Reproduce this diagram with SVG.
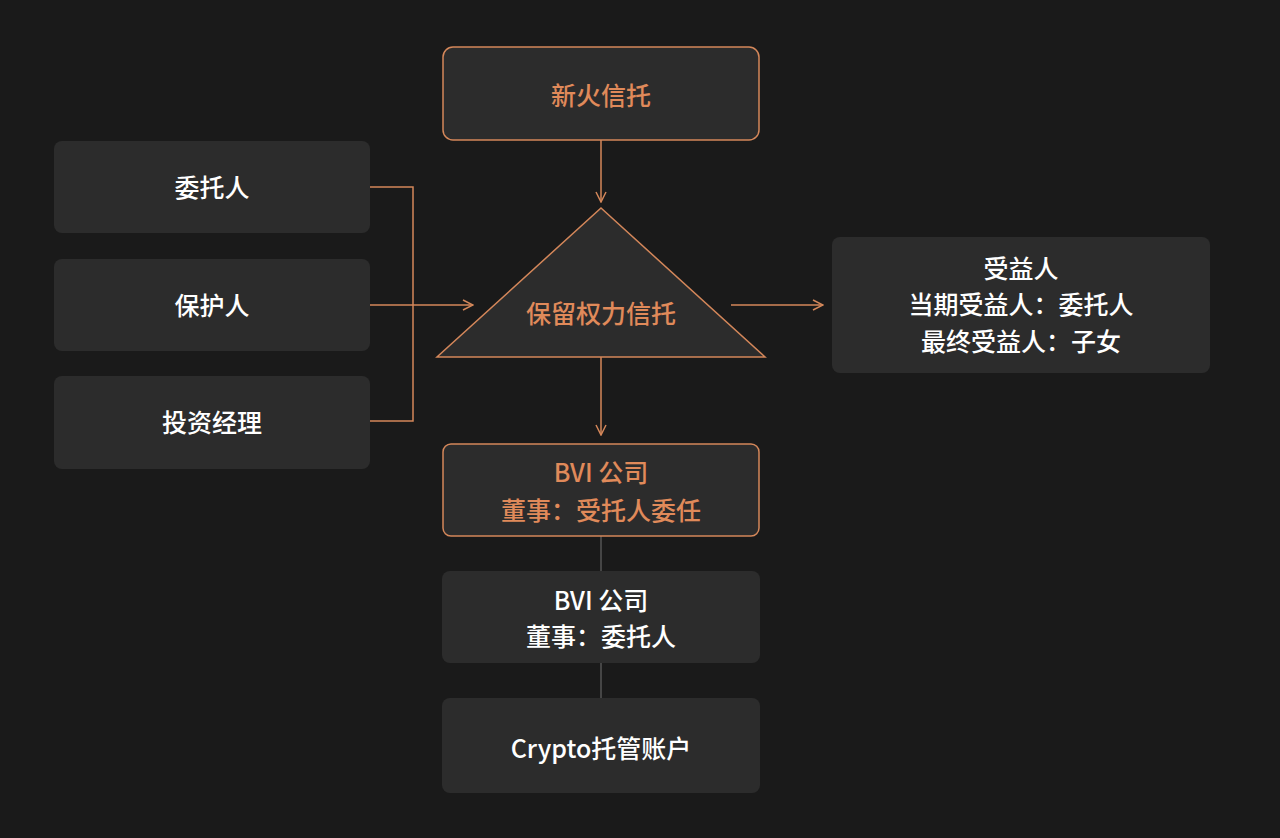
<svg xmlns="http://www.w3.org/2000/svg" width="1280" height="838" viewBox="0 0 1280 838">
<defs>
<style>
.box{fill:#2c2c2c}
.obox{fill:#2c2c2c;stroke:#d4875a;stroke-width:1.5}
.t{font-family:"Noto Sans CJK SC","Noto Sans",sans-serif;font-size:25px;font-weight:500;fill:#ffffff;text-anchor:middle}
.o{fill:#e08a5a}
.ln{stroke:#d4875a;stroke-width:1.5;fill:none}
.gl{stroke:#555;stroke-width:1.5;fill:none}
</style>
<marker id="ar" viewBox="0 0 12 12" refX="11" refY="6" markerWidth="12" markerHeight="12" markerUnits="userSpaceOnUse" orient="auto"><path d="M1,1 L11,6 L1,11" fill="none" stroke="#d4875a" stroke-width="1.5"/></marker>
</defs>
<rect width="1280" height="838" fill="#1a1a1a"/>
<g id="connectors">
<path class="ln" d="M601,140 V202" marker-end="url(#ar)"/>
<path class="ln" d="M370,187 H413 V421 H370"/>
<path class="ln" d="M370,305 H473" marker-end="url(#ar)"/>
<path class="ln" d="M731,305 H823" marker-end="url(#ar)"/>
<path class="ln" d="M601,357 V435" marker-end="url(#ar)"/>
<path class="gl" d="M601,536 V571"/>
<path class="gl" d="M601,663 V698"/>
</g>
<g id="xinhuo"><rect class="obox" x="443" y="47" width="316" height="93" rx="10"/><text class="t o" x="601" y="105">新火信托</text></g>
<g id="weituoren"><rect class="box" x="54" y="141" width="316" height="92" rx="8"/><text class="t" x="212" y="197">委托人</text></g>
<g id="baohuren"><rect class="box" x="54" y="259" width="316" height="92" rx="8"/><text class="t" x="212" y="315">保护人</text></g>
<g id="touzi"><rect class="box" x="54" y="376" width="316" height="93" rx="8"/><text class="t" x="212" y="432">投资经理</text></g>
<g id="trust"><polygon points="601,208 765,357 437,357" fill="#2c2c2c" stroke="#d4875a" stroke-width="1.5"/><text class="t o" x="601" y="323">保留权力信托</text></g>
<g id="beneficiary"><rect class="box" x="832" y="237" width="378" height="136" rx="8"/>
<text class="t" x="1021" y="278">受益人</text><text class="t" x="1021" y="314">当期受益人：委托人</text><text class="t" x="1021" y="351">最终受益人：子女</text></g>
<g id="bvi1"><rect class="obox" x="443" y="444" width="316" height="92" rx="8"/><text class="t o" x="601" y="482">BVI 公司</text><text class="t o" x="601" y="520">董事：受托人委任</text></g>
<g id="bvi2"><rect class="box" x="442" y="571" width="318" height="92" rx="8"/><text class="t" x="601" y="610">BVI 公司</text><text class="t" x="601" y="646">董事：委托人</text></g>
<g id="crypto"><rect class="box" x="442" y="698" width="318" height="95" rx="8"/><text class="t" x="601" y="758">Crypto托管账户</text></g>
</svg>
